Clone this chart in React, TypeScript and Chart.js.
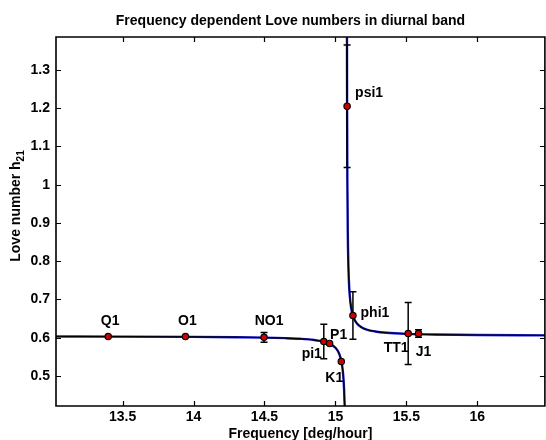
import React, { useEffect, useRef } from 'react';
import { Chart, registerables } from 'chart.js';

Chart.register(...registerables);

// ---- data ----
const constituents = ['Q1', 'O1', 'NO1', 'pi1', 'P1', 'K1', 'psi1', 'phi1', 'TT1', 'J1'];
const frequencies = [13.3987, 13.943, 14.4967, 14.9179, 14.9589, 15.0411, 15.0821, 15.1232, 15.5126, 15.5854];
const loveNumbers = [0.603, 0.603, 0.601, 0.59, 0.585, 0.538, 1.205, 0.658, 0.611, 0.611];
const loveErrors = [0, 0, 0.013, 0.045, 0, 0, 0.16, 0.062, 0.081, 0.01];

// resonance curve (left and right of the free core nutation)
const curveLeftFreq = [13.03, 13.5, 14.0, 14.3, 14.5, 14.65, 14.75, 14.85, 14.92, 14.96, 15.0, 15.02, 15.035, 15.045, 15.052, 15.057, 15.061, 15.0645, 15.066];
const curveLeftValue = [0.6033, 0.603, 0.6023, 0.6014, 0.6004, 0.5989, 0.5972, 0.594, 0.5893, 0.5842, 0.5738, 0.5632, 0.5488, 0.532, 0.5125, 0.4908, 0.4641, 0.428, 0.4062];
const curveRightFreq = [15.0805, 15.0812, 15.0821, 15.084, 15.087, 15.091, 15.097, 15.105, 15.115, 15.13, 15.15, 15.18, 15.22, 15.28, 15.36, 15.5, 15.7, 16.0, 16.48];
const curveRightValue = [1.6045, 1.3787, 1.2045, 1.0113, 0.8742, 0.7905, 0.7315, 0.6937, 0.6695, 0.6507, 0.6379, 0.6281, 0.6214, 0.6164, 0.613, 0.6102, 0.6084, 0.6071, 0.6062];

const xTickValues = [13.5, 14, 14.5, 15, 15.5, 16];
const yTickValues = [0.5, 0.6, 0.7, 0.8, 0.9, 1.0, 1.1, 1.2, 1.3];

const titleText = 'Frequency dependent Love numbers in diurnal band';
const xTitleText = 'Frequency [deg/hour]';
const yTitleMain = 'Love number h';
const yTitleSub = '21';

// ---- styling ----
const labelOffsets = [[2, -15], [2, -15], [5, -16], [-12, 13], [9, -8], [-7, 17], [22, -13], [22, -2], [-12, 15], [5, 19]];
const FONT_FAMILY = '"Liberation Sans", Arial, Helvetica, sans-serif';
const BOLD14 = `bold 14px ${FONT_FAMILY}`;

const decorPlugin = {
  id: 'decor',
  beforeDatasetDraw(chart: any, args: any) {
    if (args.index !== 0) return;
    const { ctx, chartArea } = chart;
    const xs = chart.scales.x;
    const ys = chart.scales.y;
    ctx.save();
    ctx.beginPath();
    ctx.rect(chartArea.left, chartArea.top, chartArea.right - chartArea.left, chartArea.bottom - chartArea.top);
    ctx.clip();
    ctx.strokeStyle = '#000';
    ctx.lineWidth = 1.5;
    frequencies.forEach((f, i) => {
      const e = loveErrors[i];
      if (!e) return;
      const px = xs.getPixelForValue(f);
      const top = ys.getPixelForValue(loveNumbers[i] + e);
      const bot = ys.getPixelForValue(loveNumbers[i] - e);
      ctx.beginPath();
      ctx.moveTo(px, top);
      ctx.lineTo(px, bot);
      ctx.moveTo(px - 3.5, top);
      ctx.lineTo(px + 3.5, top);
      ctx.moveTo(px - 3.5, bot);
      ctx.lineTo(px + 3.5, bot);
      ctx.stroke();
    });
    ctx.restore();
  },
  afterDraw(chart: any) {
    const { ctx, chartArea } = chart;
    const { left, right, top, bottom } = chartArea;
    const xs = chart.scales.x;
    const ys = chart.scales.y;
    ctx.save();
    // frame
    ctx.strokeStyle = '#000';
    ctx.lineWidth = 1.6;
    ctx.beginPath();
    ctx.rect(left, top, right - left, bottom - top);
    ctx.stroke();
    // inward ticks
    ctx.lineWidth = 1.2;
    ctx.beginPath();
    xTickValues.forEach((v) => {
      const px = Math.round(xs.getPixelForValue(v)) + 0.5;
      ctx.moveTo(px, bottom);
      ctx.lineTo(px, bottom - 5);
      ctx.moveTo(px, top);
      ctx.lineTo(px, top + 5);
    });
    yTickValues.forEach((v) => {
      const py = Math.round(ys.getPixelForValue(v)) + 0.5;
      ctx.moveTo(left, py);
      ctx.lineTo(left + 5, py);
      ctx.moveTo(right, py);
      ctx.lineTo(right - 5, py);
    });
    ctx.stroke();

    // constituent labels
    ctx.fillStyle = '#000';
    ctx.font = BOLD14;
    ctx.textAlign = 'center';
    ctx.textBaseline = 'middle';
    constituents.forEach((name, i) => {
      const px = xs.getPixelForValue(frequencies[i]);
      const py = ys.getPixelForValue(loveNumbers[i]);
      ctx.fillText(name, px + labelOffsets[i][0], py + labelOffsets[i][1]);
    });

    // title
    const cx = (left + right) / 2;
    ctx.textBaseline = 'alphabetic';
    ctx.fillText(titleText, cx - 10, 25);
    // x title
    ctx.fillText(xTitleText, cx, 438);
    // y title with subscript
    ctx.font = BOLD14;
    const w1 = ctx.measureText(yTitleMain).width;
    ctx.font = `bold 10px ${FONT_FAMILY}`;
    const w2 = ctx.measureText(yTitleSub).width;
    const total = w1 + w2;
    ctx.translate(20, 206);
    ctx.rotate(-Math.PI / 2);
    ctx.textAlign = 'left';
    ctx.font = BOLD14;
    ctx.fillText(yTitleMain, -total / 2, 0);
    ctx.font = `bold 10px ${FONT_FAMILY}`;
    ctx.fillText(yTitleSub, -total / 2 + w1, 3.5);
    ctx.restore();
  },
};

const fmt = (v: any) => String(Math.round(Number(v) * 10) / 10);

export default function App() {
  const canvasRef = useRef<HTMLCanvasElement | null>(null);

  useEffect(() => {
    if (!canvasRef.current) return;
    const toXY = (xs: number[], ys: number[]) => xs.map((x, i) => ({ x, y: ys[i] }));
    const chart = new Chart(canvasRef.current, {
      type: 'scatter',
      data: {
        datasets: [
          {
            label: 'Love numbers',
            data: toXY(frequencies, loveNumbers),
            pointRadius: 3.2,
            pointBackgroundColor: '#cc0000',
            pointBorderColor: '#000000',
            pointBorderWidth: 1.1,
            showLine: false,
            order: 0,
          },
          {
            label: 'curve left',
            data: toXY(curveLeftFreq, curveLeftValue),
            showLine: true,
            pointRadius: 0,
            borderColor: '#000000',
            borderWidth: 1.2,
            cubicInterpolationMode: 'monotone',
            order: 1,
          },
          {
            label: 'curve right',
            data: toXY(curveRightFreq, curveRightValue),
            showLine: true,
            pointRadius: 0,
            borderColor: '#000000',
            borderWidth: 1.2,
            cubicInterpolationMode: 'monotone',
            order: 1,
          },
          {
            label: 'curve left blue',
            data: toXY(curveLeftFreq, curveLeftValue),
            showLine: true,
            pointRadius: 0,
            borderColor: '#1a1ad0',
            borderWidth: 2.4,
            cubicInterpolationMode: 'monotone',
            order: 2,
          },
          {
            label: 'curve right blue',
            data: toXY(curveRightFreq, curveRightValue),
            showLine: true,
            pointRadius: 0,
            borderColor: '#1a1ad0',
            borderWidth: 2.4,
            cubicInterpolationMode: 'monotone',
            order: 2,
          },
        ],
      },
      options: {
        responsive: false,
        animation: false,
        devicePixelRatio: 1,
        layout: { padding: { left: 0, right: 2, top: 37, bottom: 0 } },
        plugins: {
          legend: { display: false },
          title: { display: false },
          tooltip: { enabled: false },
        },
        scales: {
          x: {
            type: 'linear',
            min: 13.0308,
            max: 16.476,
            grid: { display: false, drawTicks: false },
            border: { display: false },
            afterBuildTicks: (scale: any) => {
              scale.ticks = xTickValues.map((value) => ({ value }));
            },
            afterFit: (scale: any) => {
              scale.height = 34;
            },
            ticks: {
              padding: 3,
              color: '#000',
              maxRotation: 0,
              autoSkip: false,
              font: { family: FONT_FAMILY, size: 14, weight: 'bold' },
              callback: fmt,
            },
          },
          y: {
            type: 'linear',
            min: 0.4216,
            max: 1.386,
            grid: { display: false, drawTicks: false },
            border: { display: false },
            afterBuildTicks: (scale: any) => {
              scale.ticks = yTickValues.map((value) => ({ value }));
            },
            afterFit: (scale: any) => {
              scale.width = 56;
            },
            ticks: {
              padding: 6,
              color: '#000',
              autoSkip: false,
              font: { family: FONT_FAMILY, size: 14, weight: 'bold' },
              callback: fmt,
            },
          },
        },
      },
      plugins: [decorPlugin],
    } as any);
    return () => chart.destroy();
  }, []);

  return (
    <div
      style={{
        position: 'fixed',
        left: 0,
        top: 0,
        width: 546,
        height: 440,
        overflow: 'hidden',
        background: '#ffffff',
      }}
    >
      <canvas ref={canvasRef} width={550} height={440} style={{ display: 'block', width: 550, height: 440 }} />
    </div>
  );
}
